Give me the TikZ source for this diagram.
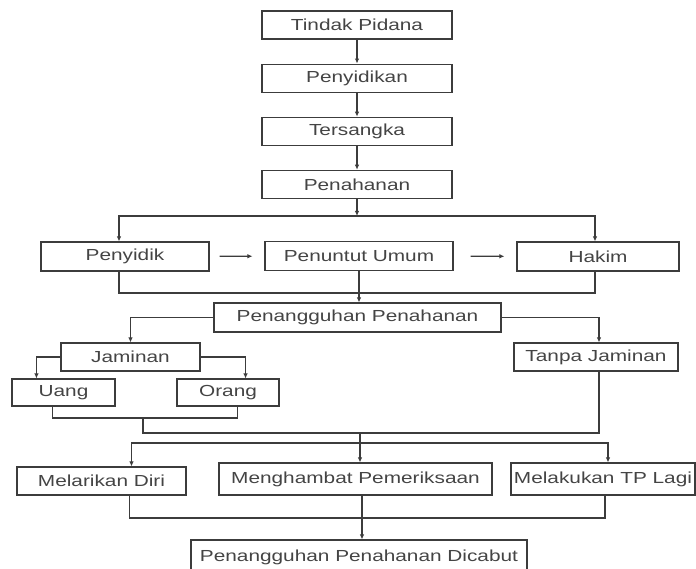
\documentclass[tikz,border=0pt]{standalone}
\usepackage{fontspec}
\setmainfont[FakeStretch=1.3]{Liberation Sans}
\usetikzlibrary{positioning, arrows.meta, calc}
\definecolor{garis}{HTML}{3C3C3C}
\definecolor{teks}{HTML}{444444}

\begin{document}
\begin{tikzpicture}[%
    x=1pt, y=1pt,
    >={Latex[length=5pt,width=4.5pt]},
    every node/.style={%
      font=\fontsize{16}{19}\selectfont,
      text=teks,
      text centered,
      align=center
    },
    kotak/.style={draw=garis, line width=1.1pt, inner sep=0pt, minimum height=28pt},
    alur/.style={draw=garis, line width=1.1pt},
    node distance=24pt
  ]

  \clip (0,0) rectangle (696,-569);

  \node[kotak, minimum width=190pt] (tp) at (357,-25) {Tindak Pidana};
  \node[kotak, minimum width=190pt, below=of tp] (pk) {Penyidikan};
  \node[kotak, minimum width=190pt, below=of pk] (ts) {Tersangka};
  \node[kotak, minimum width=190pt, below=of ts] (ph) {Penahanan};

  \node[kotak, minimum width=168pt, minimum height=29pt] (pd) at (125,-256.5) {Penyidik};
  \node[kotak, minimum width=188pt, minimum height=29pt] (pu) at (359,-256) {Penuntut Umum};
  \node[kotak, minimum width=162pt, minimum height=29pt] (hk) at (598,-256.5) {Hakim};

  \node[kotak, minimum width=287pt, minimum height=29pt] (pp) at (357.5,-317.5) {Penangguhan Penahanan};
  \node[kotak, minimum width=139pt] (jm) at (130.5,-357) {Jaminan};
  \node[kotak, minimum width=164pt] (tj) at (596,-357) {Tanpa Jaminan};
  \node[kotak, minimum width=103pt, minimum height=27pt] (ug) at (63.5,-392.5) {Uang};
  \node[kotak, minimum width=102pt, minimum height=27pt] (og) at (228,-392.5) {Orang};

  \node[kotak, minimum width=169pt] (md) at (101.5,-481) {Melarikan Diri};
  \node[kotak, minimum width=273pt, minimum height=32pt] (mp) at (355.5,-479) {Menghambat Pemeriksaan};
  \node[kotak, minimum width=184pt, minimum height=32pt] (ml) at (603,-479) {Melakukan TP Lagi};
  \node[kotak, minimum width=336pt, minimum height=35pt] (pc) at (359,-557.5) {Penangguhan Penahanan Dicabut};

  % Column on top
  \draw[alur, ->] (tp) -- (pk);
  \draw[alur, ->] (pk) -- (ts);
  \draw[alur, ->] (ts) -- (ph);

  % Split below Penahanan
  \coordinate (c1) at (357,-216);
  \draw[alur, ->] (ph) -- (c1);
  \draw[alur, ->] (c1) -| ([xshift=-6pt]pd.north);
  \draw[alur, ->] (c1) -| ([xshift=-3pt]hk.north);
  \draw[alur, ->, shorten <=10pt, shorten >=12pt] (pd) -- (pu);
  \draw[alur, ->, shorten <=17pt, shorten >=12pt] (pu) -- (hk);

  % Merge to Penangguhan Penahanan
  \coordinate (c2) at (359,-293);
  \draw[alur] ([xshift=-6pt]pd.south) |- (c2) -| ([xshift=-3pt]hk.south);
  \draw[alur, ->] (pu.south) -- (pu.south |- pp.north);

  % Jaminan / Tanpa Jaminan
  \draw[alur, ->] (pp.west) -| (jm.north);
  \draw[alur, ->] (pp.east) -| ([xshift=3pt]tj.north);
  \draw[alur, ->] (jm.west) -| ([xshift=25pt]ug.north west);
  \draw[alur, ->] (jm.east) -| ([xshift=-34pt]og.north east);

  % Merge and split to the three reasons
  \coordinate (c3) at (143,-418);
  \coordinate (c4) at (360,-433);
  \coordinate (c5) at (360,-443);
  \draw[alur] ([xshift=41pt]ug.south west) |- (c3) -| ([xshift=-42pt]og.south east);
  \draw[alur] (c3) |- (c4) -| ([xshift=3pt]tj.south);
  \draw[alur, ->] (c4) -- (c4 |- mp.north);
  \draw[alur, ->] (c5) -| ([xshift=30pt]md.north);
  \draw[alur, ->] (c5) -| ([xshift=5pt]ml.north);

  % Merge to Penangguhan Penahanan Dicabut
  \coordinate (c6) at (362,-518);
  \draw[alur] ([xshift=28pt]md.south) |- (c6) -| ([xshift=2pt]ml.south);
  \draw[alur, ->] (c6 |- mp.south) -- (c6 |- pc.north);

\end{tikzpicture}
\end{document}
